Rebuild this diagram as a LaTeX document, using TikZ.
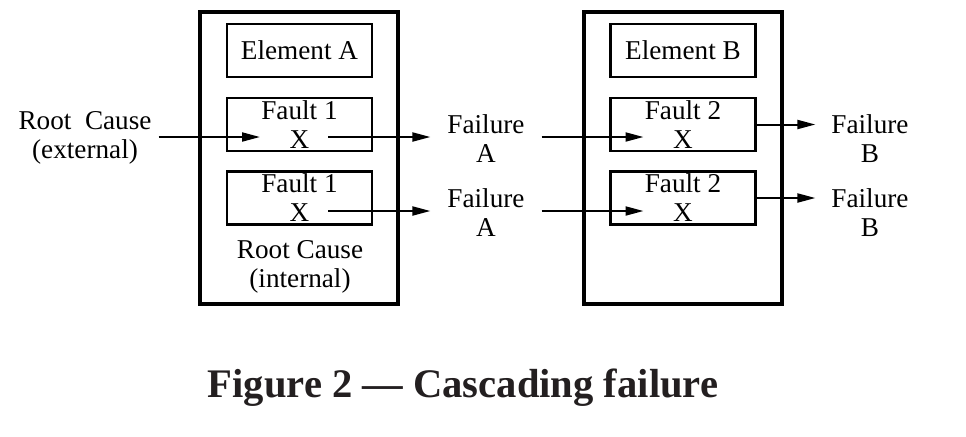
\documentclass[tikz,border=0pt]{standalone}
\usepackage{fontspec}
\setmainfont{Liberation Serif}
\usetikzlibrary{positioning, arrows.meta, calc}
\definecolor{captext}{HTML}{231F20}
\tikzset{
	x=0.5pt, y=-0.5pt, % one unit is one pixel of the figure
	>={Triangle[length=9pt,width=4.5pt]}, % filled arrow heads
	every node/.style={font=\fontsize{13.6}{14.5}\selectfont, align=center},
	element/.style={draw, line width=2.2pt, minimum width=99pt, minimum height=146pt}, % outer element frame
	part/.style={draw, line width=1.2pt, minimum width=72.5pt, minimum height=26.5pt, inner sep=0pt}, % name and fault boxes
	note/.style={anchor=base}, % free text, placed on its last baseline
	link/.style={->, line width=1pt},
 }

\begin{document}
\begin{tikzpicture}
		\useasboundingbox (0,0) rectangle (966,436);
		% element A
		\node[element] (elA) at (299,158) {};
		\node[part] (nameA) at (299.5,50.5) {Element A};
		\node[part] (fa1) at (299.5,124.5) {Fault 1\\X};
		\node[part] (fa2) at (299.5,198) {Fault 1\\X};
		\node[note] (rcint) at (300,287) {Root Cause\\(internal)};
		% element B
		\node[element] (elB) at (683,158) {};
		\node[part] (nameB) at (683,50.5) {Element B};
		\node[part] (fb1) at (683,124.5) {Fault 2\\X};
		\node[part] (fb2) at (683,198) {Fault 2\\X};
		% free texts
		\node[note] (rcext) at (85,158) {Root~~Cause\\(external)};
		\node[note] (failA1) at (486,162) {Failure\\A};
		\node[note] (failA2) at (486,236) {Failure\\A};
		\node[note] (failB1) at (870,162) {Failure\\B};
		\node[note] (failB2) at (870,236) {Failure\\B};
		\node[note, font=\fontsize{20.3}{24}\selectfont\bfseries, text=captext] (cap) at (463,397) {Figure 2 --- Cascading failure};
		
		% points on the X marks
		\coordinate (a1in) at ($(fa1.center)+(-39.5,12.5)$);
		\coordinate (a1out) at ($(fa1.center)+(28.5,12.5)$);
		\coordinate (a2out) at ($(fa2.center)+(28.5,13)$);
		\coordinate (b1in) at ($(fb1.center)+(-39.5,12.5)$);
		\coordinate (b2in) at ($(fb2.center)+(-39.5,13)$);
		
		\draw[link] (rcext.east |- a1in) -- (a1in);
		\draw[link, shorten >=5pt] (a1out) -- (failA1.west |- a1out);
		\draw[link, shorten >=5pt] (a2out) -- (failA2.west |- a2out);
		%
		\draw[link, shorten <=5pt] (failA1.east |- b1in) -- (b1in);
		\draw[link, shorten <=5pt] (failA2.east |- b2in) -- (b2in);
		\draw[link, shorten >=4.5pt] (fb1.east) -- (failB1.west |- fb1.east);
		\draw[link, shorten >=4.5pt] (fb2.east) -- (failB2.west |- fb2.east);
	\end{tikzpicture}
\end{document}
